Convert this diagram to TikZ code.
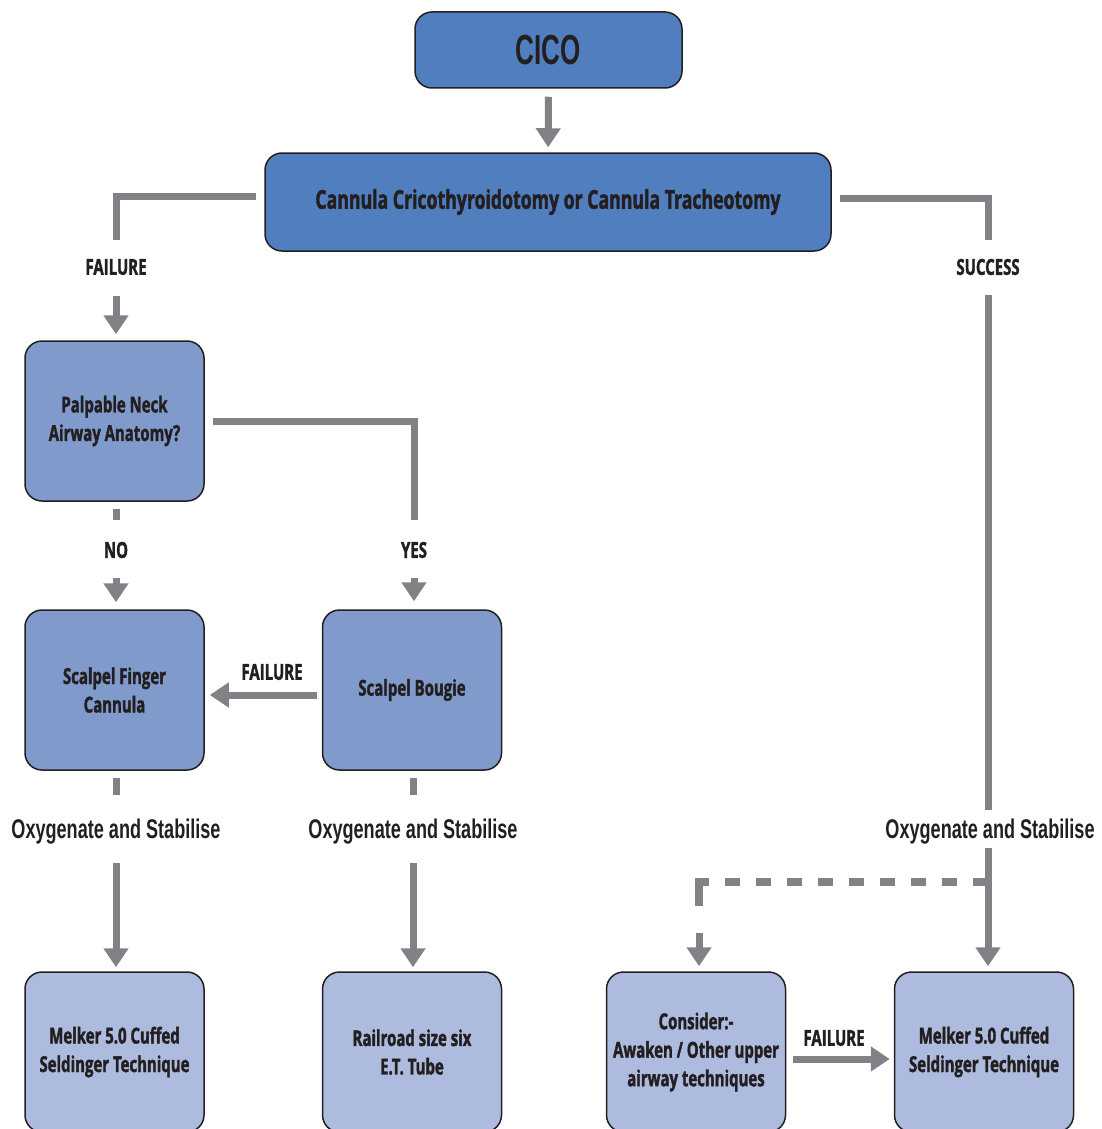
\documentclass[tikz,border=0pt]{standalone}
\usepackage{fontspec}
\usetikzlibrary{arrows.meta}

% condensed faces for box text, labels and headings
\newfontfamily\boxfont[FakeStretch=0.68, BoldFeatures={FakeBold=1.6}]{Open Sans}
\newfontfamily\headfont[FakeStretch=0.62]{Liberation Sans}
\newfontfamily\oxyfont[FakeStretch=0.67]{Liberation Sans}

\definecolor{dblue}{HTML}{507EBE}
\definecolor{mblue}{HTML}{7F9ACB}
\definecolor{lblue}{HTML}{ADBBDF}
\definecolor{flowgrey}{HTML}{808285}
\definecolor{ink}{HTML}{231F20}

\tikzset{
  box/.style={draw=ink, line width=1.5pt, rounded corners=17pt, align=center,
    inner sep=0pt, text=ink, font=\boxfont\bfseries\fontsize{22}{28.5}\selectfont},
  bigbox/.style={box, fill=dblue},
  midbox/.style={box, fill=mblue, minimum width=179pt, minimum height=160pt},
  endbox/.style={box, fill=lblue, minimum width=179pt, minimum height=160pt},
  lab/.style={text=ink, inner sep=0pt, font=\boxfont\bfseries\fontsize{22}{24}\selectfont},
  oxy/.style={text=ink, inner sep=0pt, font=\oxyfont\bfseries\fontsize{27}{30}\selectfont},
  flow/.style={draw=flowgrey, line width=7pt, line join=miter},
  tip/.style={-{Triangle[width=24pt,length=19pt]}},
  dashflow/.style={flow, line width=8pt, dash pattern=on 15pt off 16pt}
}

\begin{document}
\begin{tikzpicture}[x=1pt, y=-1pt]
\useasboundingbox (0,0) rectangle (1101,1129);
\clip (0,0) rectangle (1101,1129);

% boxes
\node[bigbox, minimum width=267pt, minimum height=76pt] (cico) at (548.5,50)
  {\headfont\bfseries\fontsize{42}{44}\selectfont CICO};
\node[bigbox, minimum width=566pt, minimum height=98pt] (cann) at (548,202)
  {\fontsize{26}{30}\selectfont Cannula Cricothyroidotomy or Cannula Tracheotomy};
\node[midbox] (palp) at (114.5,421) {Palpable Neck\\Airway Anatomy?};
\node[midbox] (sfc) at (114.5,690) {Scalpel Finger\\Cannula};
\node[midbox] (sb) at (412,690) {Scalpel Bougie};
\node[endbox] (mel1) at (114.5,1052) {Melker 5.0 Cuffed\\Seldinger Technique};
\node[endbox] (rail) at (412,1052) {Railroad size six\\E.T. Tube};
\node[endbox] (cons) at (696,1052) {Consider:-\\Awaken / Other upper\\airway techniques};
\node[endbox] (mel2) at (984,1052) {Melker 5.0 Cuffed\\Seldinger Technique};

% connector labels
\node[lab] (fail1) at (116,267) {FAILURE};
\node[lab] (succ) at (988,267) {SUCCESS};
\node[lab] (no) at (116,550) {NO};
\node[lab] (yes) at (414,550) {YES};
\node[lab] (fail2) at (272,672) {FAILURE};
\node[lab] (fail3) at (834,1038) {FAILURE};
\node[oxy] (oxy1) at (116,832) {Oxygenate and Stabilise};
\node[oxy] (oxy2) at (413,832) {Oxygenate and Stabilise};
\node[oxy] (oxy3) at (990,832) {Oxygenate and Stabilise};

\coordinate (split) at (988,882);
\coordinate (corner) at (699,882);
\coordinate (dashend) at (699,906);

% connectors
\draw[flow, tip, shorten <=8pt, shorten >=5pt] (cico) -- (cann);
\draw[flow, shorten <=8pt, shorten >=19pt] ([yshift=6pt]cann.west) -| (fail1);
\draw[flow, tip, shorten <=21pt, shorten >=6pt] (fail1) -- (fail1 |- palp.north);
\draw[flow, shorten <=8pt, shorten >=19pt] ([yshift=4pt]cann.east) -| (succ);
\draw[flow, shorten <=20pt, shorten >=22pt] (succ) -- (succ |- oxy3);
\draw[flow, tip, shorten <=16pt, shorten >=5pt] (succ |- oxy3) -- (succ |- mel2.north);
\draw[dashflow] (split) -- (corner);
\draw[flow, line width=8pt, shorten <=-4pt] (corner) -- (dashend);
\draw[flow, tip, shorten <=27pt, shorten >=5pt] (dashend) -- (dashend |- cons.north);

\draw[flow, shorten <=8pt, shorten >=22pt] (palp.east) -| (yes);
\draw[flow, tip, shorten <=20pt, shorten >=8pt] (yes) -- (yes |- sb.north);
\draw[flow, shorten <=7pt, shorten >=22pt] (palp.south -| no) -- (no);
\draw[flow, tip, shorten <=20pt, shorten >=7pt] (no) -- (no |- sfc.north);
\draw[flow, tip, shorten <=5pt, shorten >=5pt] ([yshift=-5pt]sb.west) -- ([yshift=-5pt]sfc.east);

\draw[flow, shorten <=7pt, shorten >=24pt] (sfc.south -| oxy1) -- (oxy1);
\draw[flow, tip, shorten <=18pt, shorten >=4pt] (oxy1) -- (oxy1 |- mel1.north);
\draw[flow, shorten <=7pt, shorten >=24pt] (sb.south -| oxy2) -- (oxy2);
\draw[flow, tip, shorten <=18pt, shorten >=4pt] (oxy2) -- (oxy2 |- rail.north);
\draw[flow, tip, shorten <=7pt, shorten >=4pt] ([yshift=-7pt]cons.east) -- ([yshift=-7pt]mel2.west);
\end{tikzpicture}
\end{document}
